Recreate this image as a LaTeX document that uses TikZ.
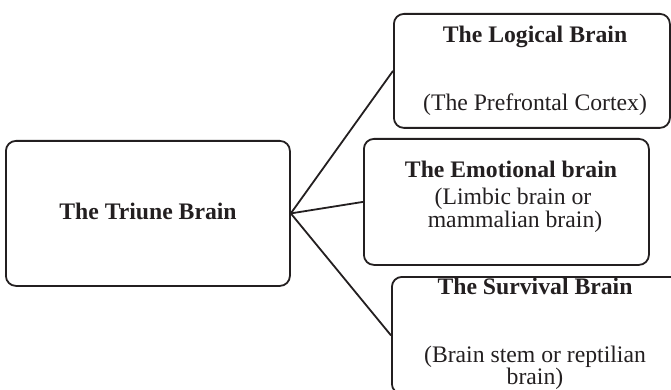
\documentclass[tikz,border=0pt]{standalone}
\usepackage{fontspec}
\setmainfont{Liberation Serif}
\definecolor{ink}{HTML}{231F20}
\begin{document}
\begin{tikzpicture}[x=1pt,y=-1pt,
  box/.style={draw=ink, line width=1.8pt, rounded corners=10pt, inner sep=0pt, anchor=north west},
  link/.style={draw=ink, line width=1.8pt},
  title/.style={font=\fontsize{23.7}{21}\selectfont\bfseries, text=ink, anchor=base, inner sep=0pt},
  sub/.style={font=\fontsize{23.7}{21}\selectfont, text=ink, anchor=base, inner sep=0pt},
]
\useasboundingbox (0,0) rectangle (671,390);
\clip (0,0) rectangle (671,390);

% boxes
\node[box, minimum width=284pt, minimum height=145pt] (triune) at (5,140) {};
\node[box, minimum width=276pt, minimum height=114pt] (logical) at (393,13) {};
\node[box, minimum width=285pt, minimum height=126pt] (emotional) at (363,138) {};
\node[box, minimum width=289pt, minimum height=117pt] (survival) at (391,276) {};

% connectors
\draw[link] (triune.east) -- (logical.west);
\draw[link] (triune.east) -- (emotional.west);
\draw[link] (triune.east) -- (survival.west);

% labels
\node[title] (t0) at (148,219) {The Triune Brain};

\node[title] (t1) at (535,43) {The Logical Brain};
\node[sub] (s1) at (535,111) {(The Prefrontal Cortex)};

\node[title] (t2) at (511,177) {The Emotional brain};
\node[sub] (s2a) at (513,204) {(Limbic brain or};
\node[sub] (s2b) at (515,227) {mammalian brain)};

\node[title] (t3) at (535,294) {The Survival Brain};
\node[sub] (s3a) at (535,362) {(Brain stem or reptilian};
\node[sub] (s3b) at (535,384) {brain)};
\end{tikzpicture}
\end{document}
